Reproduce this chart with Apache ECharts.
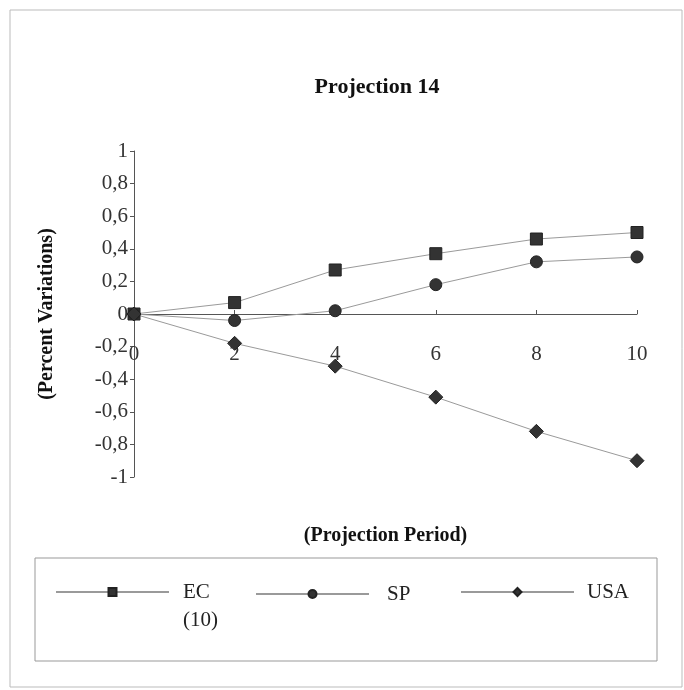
<!DOCTYPE html>
<html>
<head>
<meta charset="utf-8">
<script src="https://cdn.jsdelivr.net/npm/echarts@6/dist/echarts.min.js"></script>
<style>
html,body{margin:0;padding:0;background:#fff;}
#chart{width:684px;height:690px;}
</style>
</head>
<body>
<div id="chart"></div>
<script>
const periods = [0, 2, 4, 6, 8, 10];
const ecValues = [0, 0.07, 0.27, 0.37, 0.46, 0.50];
const spValues = [0, -0.04, 0.02, 0.18, 0.32, 0.35];
const usaValues = [0, -0.18, -0.32, -0.51, -0.72, -0.90];
const seriesNames = ['EC', 'SP', 'USA'];
const titleText = 'Projection 14';
const xTitle = '(Projection Period)';
const yTitle = '(Percent Variations)';

const FONT = '"Liberation Serif", "DejaVu Serif", serif';
const lineColor = '#9a9a9a';
const markColor = '#333333';

function pairs(vals){ return periods.map((p,i)=>[p, vals[i]]); }

const chart = echarts.init(document.getElementById('chart'), null, {renderer:'canvas'});

function mkSeries(name, vals, symbol, size){
  return {
    name: name, type: 'line', data: pairs(vals),
    symbol: symbol, symbolSize: size,
    lineStyle: {color: lineColor, width: 1},
    itemStyle: {color: markColor, borderColor: '#222', borderWidth: 1},
    z: 3
  };
}

function mkLegend(name, left, top, fmtPad){
  return {
    data: [name], left: left, top: top, padding: 0,
    itemWidth: 113, itemHeight: 10,
    selectedMode: false,
    textStyle: {fontFamily: FONT, fontSize: 21, color: '#222', padding: fmtPad, lineHeight: 28},
    formatter: n => n === 'EC' ? ' \nEC\n(10)' : n
  };
}

chart.setOption({
  animation: false,
  backgroundColor: '#fff',
  title: {
    text: titleText, left: 372, top: 71, textAlign: 'center',
    textStyle: {fontFamily: FONT, fontSize: 22, fontWeight: 'bold', color: '#111'}
  },
  grid: {left: 134, right: 47, top: 151, bottom: 213, containLabel: false, outerBoundsMode: 'none'},
  legend: [
    mkLegend('EC', 55, 550, [0, 0, 0, 9]),
    mkLegend('SP', 255, 580, [0, 0, 0, 13]),
    mkLegend('USA', 460, 578, [0, 0, 0, 8])
  ],
  xAxis: {
    type: 'value', min: 0, max: 10, interval: 2,
    name: xTitle, nameLocation: 'middle', nameGap: 49,
    nameTextStyle: {fontFamily: FONT, fontSize: 20, fontWeight: 'bold', color: '#111'},
    axisLine: {onZero: true, lineStyle: {color: '#555', width: 1}},
    axisTick: {show: true, length: 4, inside: true, lineStyle: {color: '#555'}},
    splitLine: {show: false},
    axisLabel: {fontFamily: FONT, fontSize: 21, color: '#333', margin: -133}
  },
  yAxis: {
    type: 'value', min: -1, max: 1, interval: 0.2,
    name: yTitle, nameLocation: 'middle', nameGap: 77, nameRotate: 90,
    nameTextStyle: {fontFamily: FONT, fontSize: 20, fontWeight: 'bold', color: '#111'},
    axisLine: {show: true, onZero: false, lineStyle: {color: '#555', width: 1}},
    axisTick: {show: true, length: 4, lineStyle: {color: '#555'}},
    splitLine: {show: false},
    axisLabel: {fontFamily: FONT, fontSize: 21, color: '#333', margin: 6,
      formatter: v => String(Math.round(v*10)/10).replace('.', ',')}
  },
  graphic: [
    {type: 'rect', shape: {x: 10, y: 10, width: 672, height: 677},
     style: {fill: 'none', stroke: '#bbb', lineWidth: 1}, silent: true},
    {type: 'rect', shape: {x: 35, y: 558, width: 622, height: 103},
     style: {fill: 'none', stroke: '#999', lineWidth: 1}, silent: true}
  ],
  series: [
    mkSeries('EC', ecValues, 'rect', 12),
    mkSeries('SP', spValues, 'circle', 12),
    mkSeries('USA', usaValues, 'diamond', 14)
  ]
});
</script>
</body>
</html>
